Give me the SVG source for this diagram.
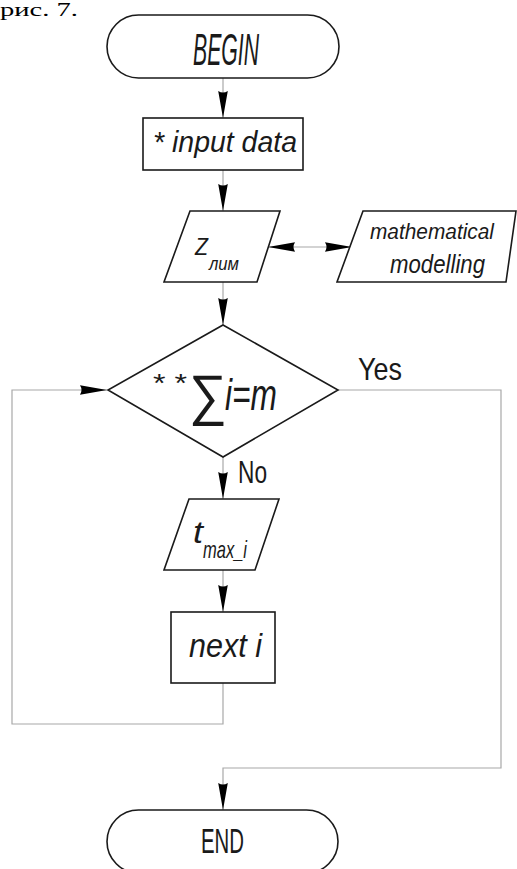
<svg xmlns="http://www.w3.org/2000/svg" width="517" height="869" viewBox="0 0 517 869">
<defs>
<style>
.shape{fill:#fff;stroke:#1a1a1a;stroke-width:1.6}
.conn{fill:none;stroke:#a8a8a8;stroke-width:1.2}
.t{font-family:"Liberation Sans",Arial,sans-serif;fill:#1a1a1a;font-style:italic}
.u{font-family:"Liberation Sans",Arial,sans-serif;fill:#1a1a1a}
</style>
<marker id="ah" markerUnits="userSpaceOnUse" markerWidth="28" markerHeight="12" viewBox="0 -6 28 12" refX="27" refY="0" orient="auto-start-reverse">
<path d="M0,-4.8 Q3,0 0,4.8 L27,0 Z" fill="#000"/>
</marker>
</defs>
<rect width="517" height="869" fill="#fff"/>
<text x="0" y="16" font-family="Liberation Serif,serif" font-size="19" fill="#000" textLength="78" lengthAdjust="spacingAndGlyphs">рис. 7.</text>
<g id="connectors">
<line class="conn" x1="223" y1="78" x2="223" y2="118" marker-end="url(#ah)"/>
<line class="conn" x1="223" y1="170" x2="223" y2="211" marker-end="url(#ah)"/>
<line class="conn" x1="268" y1="247" x2="352" y2="247" marker-start="url(#ah)" marker-end="url(#ah)"/>
<line class="conn" x1="223" y1="282" x2="223" y2="325" marker-end="url(#ah)"/>
<line class="conn" x1="223" y1="457" x2="223" y2="499" marker-end="url(#ah)"/>
<line class="conn" x1="223" y1="570" x2="223" y2="612" marker-end="url(#ah)"/>
<polyline class="conn" points="223,683 223,724 12,724 12,390 107,390" marker-end="url(#ah)"/>
<polyline class="conn" points="338,390 501,390 501,768 223,768 223,810" marker-end="url(#ah)"/>
<text class="u" x="358" y="380" font-size="32" textLength="44" lengthAdjust="spacingAndGlyphs">Yes</text>
<text class="u" x="238" y="483" font-size="32" textLength="29" lengthAdjust="spacingAndGlyphs">No</text>
</g>
<g id="begin">
<rect class="shape" x="107" y="15" width="232" height="63" rx="31.5"/>
<text class="t" x="193" y="65" font-size="44" textLength="66" lengthAdjust="spacingAndGlyphs">BEGIN</text>
</g>
<g id="input">
<rect class="shape" x="143" y="118" width="160" height="52"/>
<text class="t" x="153" y="152" font-size="30" textLength="144" lengthAdjust="spacingAndGlyphs">* input data</text>
</g>
<g id="zlim">
<polygon class="shape" points="190,211 280,211 257,282 164,282"/>
<text class="t" x="195" y="255" font-size="24" textLength="13" lengthAdjust="spacingAndGlyphs">Z</text>
<text class="t" x="209" y="270" font-size="19" textLength="30" lengthAdjust="spacingAndGlyphs">лим</text>
</g>
<g id="modelling">
<polygon class="shape" points="363,211 516,211 506,282 337,282"/>
<text class="t" x="370" y="239" font-size="22" textLength="124" lengthAdjust="spacingAndGlyphs">mathematical</text>
<text class="t" x="390" y="273" font-size="26" textLength="95" lengthAdjust="spacingAndGlyphs">modelling</text>
</g>
<g id="decision">
<polygon class="shape" points="223,325 338,390 223,457 108,390"/>
<text class="u" x="153" y="392" font-size="26" textLength="34" lengthAdjust="spacingAndGlyphs">* *</text>
<text class="u" x="189" y="414" font-size="56" textLength="38" lengthAdjust="spacingAndGlyphs">∑</text>
<text class="t" x="225" y="410" font-size="44" textLength="52" lengthAdjust="spacingAndGlyphs">i=m</text>
</g>
<g id="tmax">
<polygon class="shape" points="189,499 279,499 255,570 164,570"/>
<text class="t" x="193" y="543" font-size="32" textLength="10" lengthAdjust="spacingAndGlyphs">t</text>
<text class="t" x="203" y="558" font-size="24" textLength="44" lengthAdjust="spacingAndGlyphs">max_i</text>
</g>
<g id="next">
<rect class="shape" x="171" y="612" width="104" height="71"/>
<text class="t" x="189" y="657" font-size="33" textLength="73" lengthAdjust="spacingAndGlyphs">next i</text>
</g>
<g id="end">
<rect class="shape" x="107" y="810" width="231" height="63" rx="31.5"/>
<text class="u" x="201" y="853" font-size="35" textLength="43" lengthAdjust="spacingAndGlyphs">END</text>
</g>
</svg>
